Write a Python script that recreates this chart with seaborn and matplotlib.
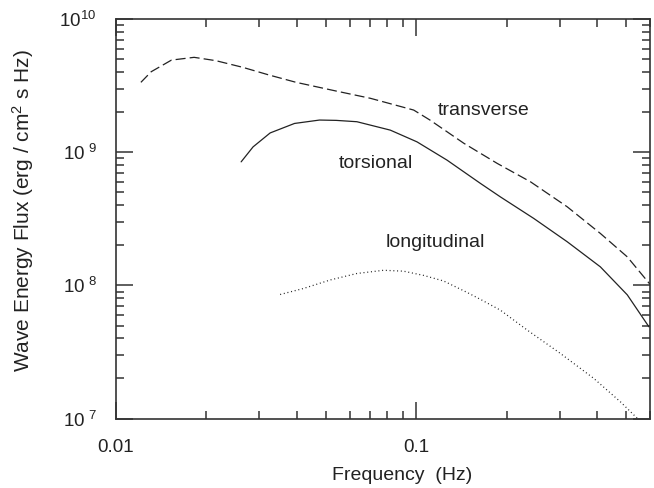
import numpy as np
import pandas as pd
import matplotlib
matplotlib.use("Agg")
import matplotlib.pyplot as plt
import matplotlib.ticker as mticker
import seaborn as sns

# transverse (dashed)
trans_f = [0.0121, 0.0131, 0.0153, 0.0182, 0.0215, 0.0264, 0.0324, 0.0398, 0.0541,
           0.0703, 0.098, 0.111, 0.144, 0.186, 0.240, 0.318, 0.410, 0.504, 0.600]
trans_e = [3.36e9, 4.04e9, 4.94e9, 5.18e9, 4.89e9, 4.36e9, 3.81e9, 3.36e9, 2.89e9,
           2.55e9, 2.08e9, 1.75e9, 1.17e9, 8.26e8, 6.01e8, 3.90e8, 2.46e8, 1.64e8, 1.02e8]

# torsional (solid)
tors_f = [0.0261, 0.0286, 0.0326, 0.0393, 0.0476, 0.0541, 0.0634, 0.0819, 0.1005,
          0.1265, 0.1634, 0.1905, 0.246, 0.318, 0.410, 0.504, 0.595]
tors_e = [8.49e8, 1.10e9, 1.40e9, 1.65e9, 1.75e9, 1.74e9, 1.70e9, 1.47e9, 1.20e9,
          8.75e8, 5.85e8, 4.63e8, 3.19e8, 2.13e8, 1.38e8, 8.5e7, 4.89e7]

# longitudinal (dotted)
long_f = [0.0352, 0.0421, 0.0517, 0.0634, 0.0778, 0.0907, 0.1057, 0.1233, 0.1476,
          0.1656, 0.1905, 0.234, 0.302, 0.390, 0.479, 0.545]
long_e = [8.55e7, 9.49e7, 1.10e8, 1.23e8, 1.30e8, 1.28e8, 1.19e8, 1.08e8, 8.86e7,
          7.74e7, 6.52e7, 4.62e7, 3.08e7, 2.00e7, 1.33e7, 1.0e7]

labels = ["transverse", "torsional", "longitudinal"]
label_pos = [(0.168, 2.08e9), (0.0735, 8.3e8), (0.116, 2.12e8)]

df = pd.concat([
    pd.DataFrame({"f": trans_f, "e": trans_e, "mode": "transverse"}),
    pd.DataFrame({"f": tors_f, "e": tors_e, "mode": "torsional"}),
    pd.DataFrame({"f": long_f, "e": long_e, "mode": "longitudinal"}),
], ignore_index=True)

sns.set_style("ticks")
plt.rcParams['font.family'] = ['Liberation Sans', 'DejaVu Sans']
plt.rcParams['mathtext.default'] = 'regular'

fig = plt.figure(figsize=(6.54, 4.88), dpi=100)
ax = fig.add_axes([0.1774, 0.1424, 0.8165, 0.818])

line_col = '#222222'
sns.lineplot(data=df, x="f", y="e", style="mode", ax=ax, color=line_col,
             dashes={"transverse": (8, 3.3), "torsional": "", "longitudinal": (0.8, 2.2)},
             estimator=None, legend=False, lw=0.9)

ax.set_xscale('log')
ax.set_yscale('log')
ax.set_xlim(0.01, 0.6)
ax.set_ylim(1e7, 1e10)

for txt, (x, y) in zip(labels, label_pos):
    ax.text(x, y, txt, ha='center', va='center', fontsize=14, color='#222222')

ax.xaxis.set_major_locator(mticker.FixedLocator([0.01, 0.1]))
ax.xaxis.set_major_formatter(mticker.FixedFormatter(['0.01', '0.1']))
ax.xaxis.set_minor_locator(mticker.LogLocator(base=10, subs=np.arange(2, 10), numticks=20))
ax.xaxis.set_minor_formatter(mticker.NullFormatter())
ax.yaxis.set_major_locator(mticker.FixedLocator([1e7, 1e8, 1e9, 1e10]))
ax.yaxis.set_major_formatter(mticker.FixedFormatter(['$10^{\\ 7}$', '$10^{\\ 8}$', '$10^{\\ 9}$', '$10^{10}$']))
ax.yaxis.set_minor_locator(mticker.LogLocator(base=10, subs=np.arange(2, 10), numticks=20))
ax.yaxis.set_minor_formatter(mticker.NullFormatter())

ax.tick_params(which='both', direction='in', top=True, right=True, color='#333333', width=1.1)
ax.tick_params(which='major', length=12.5, labelsize=13.5, labelcolor='#222222')
ax.tick_params(which='minor', length=6)
ax.tick_params(axis='x', which='major', pad=15)
ax.tick_params(axis='y', which='major', pad=14)
for s in ax.spines.values():
    s.set_linewidth(1.2)
    s.set_color('#333333')

ax.set_xlabel('Frequency  (Hz)', fontsize=14, color='#222222')
ax.set_ylabel('Wave Energy Flux (erg / cm$^2$ s Hz)', fontsize=15, color='#222222')
ax.xaxis.set_label_coords(0.536, -0.1215)
ax.yaxis.set_label_coords(-0.15, 0.52)

fig.savefig('out.png', dpi=100)
